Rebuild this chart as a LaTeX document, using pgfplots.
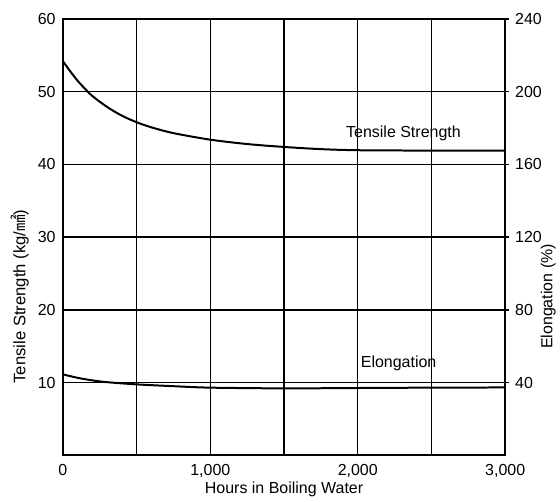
\documentclass[border=0pt]{standalone}
\usepackage{pgfplots}
\pgfplotsset{compat=1.18}
\usepackage{fontspec}
\setmainfont{Liberation Sans}
\newfontfamily\cjk{Noto Sans CJK JP}

\begin{document}
\begin{tikzpicture}
\pgfplotsset{
  twin/.style={
    scale only axis, width=332.25pt, height=327.75pt,
    xmin=0, xmax=3000,
    tick label style={font=\fontsize{12}{14}\selectfont},
    /pgf/number format/assume math mode=true,
  },
}
% left axis: tensile strength
\begin{axis}[
  twin, name=main,
  ymin=0, ymax=60,
  xtick={0,500,...,3000},
  xticklabels={0,,1{,}000,,2{,}000,,3{,}000},
  ytick={10,20,...,60},
  grid=major,
  major grid style={black, line width=1pt},
  axis line style={line width=1.3pt},
  major tick length=0pt,
  xticklabel style={yshift=-3pt},
  yticklabel style={xshift=-2pt},
  clip=false,
]
\addplot[black, line width=1.5pt, smooth] coordinates {
  (0,54.2) (50,52.8) (100,51.5) (150,50.4) (200,49.4) (300,47.9)
  (400,46.7) (500,45.8) (600,45.1) (750,44.3) (1000,43.4) (1250,42.8)
  (1500,42.4) (1750,42.1) (2000,41.95) (2500,41.9) (3000,41.9)
};
\node[font=\fontsize{12}{14}\selectfont] at (axis cs:2310,44.3) {Tensile Strength};
\node[font=\fontsize{12}{14}\selectfont] at (axis cs:2277,12.7) {Elongation};
\node[rotate=90, font=\fontsize{12.5}{14}\selectfont] at ([xshift=-32.25pt]rel axis cs:0,0.364)
  {Tensile Strength (kg/{\cjk ㎟})};
\node[font=\fontsize{12}{14}\selectfont] at ([yshift=-25.5pt]rel axis cs:0.5,0) {Hours in Boiling Water};
\node[rotate=90, font=\fontsize{12}{14}\selectfont] at ([xshift=32.25pt]rel axis cs:1,0.364)
  {Elongation (\%)};
\end{axis}
% right axis: elongation
\begin{axis}[
  twin,
  ymin=0, ymax=240,
  axis x line=none,
  axis y line*=right,
  ytick={40,80,...,240},
  tick align=outside,
  major tick length=3pt,
  axis line style={line width=1.3pt},
  tick style={black, line width=1pt},
  yticklabel style={xshift=1pt},
]
\addplot[black, line width=1.5pt, smooth] coordinates {
  (0,44.5) (100,42.6) (200,41.2) (300,40.2) (500,39.0) (750,38.0)
  (1000,37.2) (1500,36.8) (2000,37.0) (2500,37.2) (3000,37.3)
};
\end{axis}
\path ([shift={(-47.25pt,-33pt)}]main.south west) rectangle ([shift={(40.5pt,14.25pt)}]main.north east);
\end{tikzpicture}
\end{document}
